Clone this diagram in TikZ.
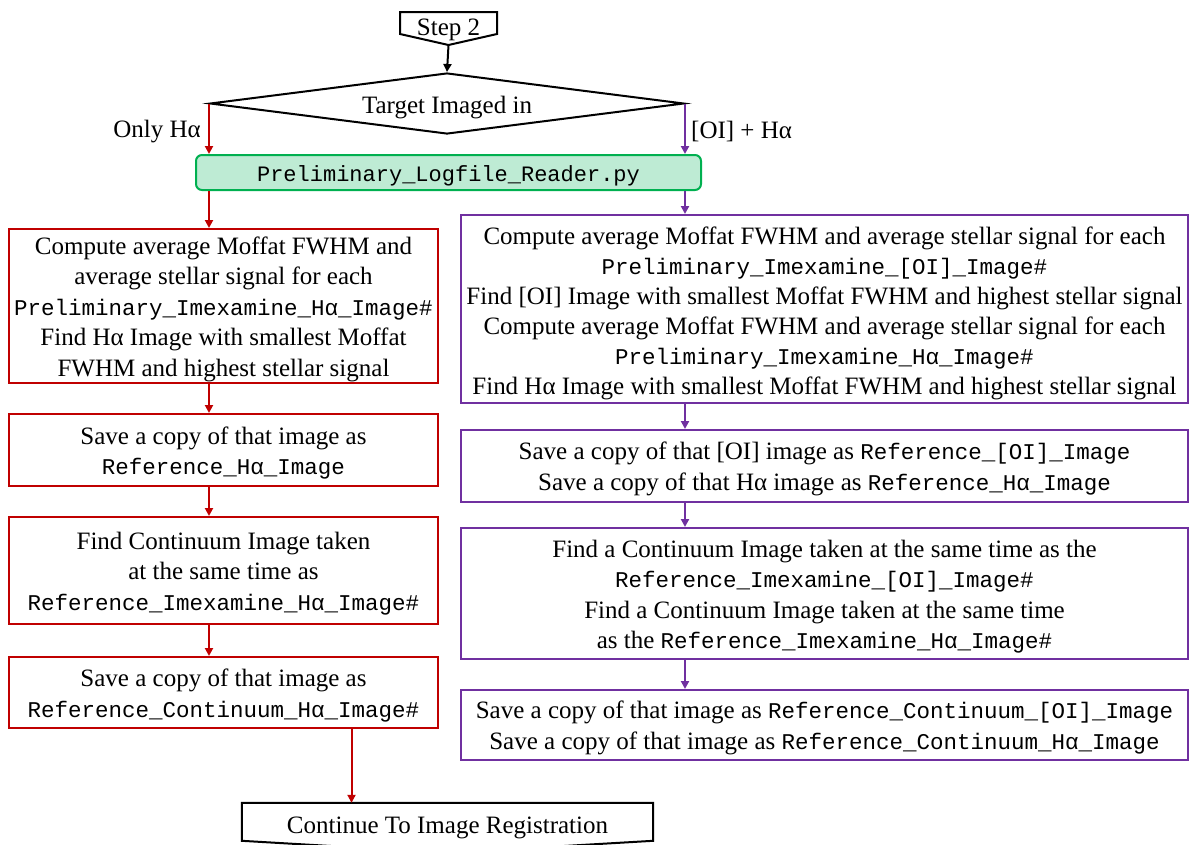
\documentclass[tikz,border=0pt]{standalone}
\usepackage{fontspec}
\setmainfont{Liberation Serif}
\setmonofont{Liberation Mono}
\usetikzlibrary{arrows.meta,calc,shapes.geometric}
\definecolor{flowred}{RGB}{192,0,0}
\definecolor{flowpurple}{RGB}{112,48,160}
\definecolor{flowgreen}{RGB}{0,176,80}
\definecolor{mint}{RGB}{190,235,212}
\newcommand{\code}[1]{{\fontsize{22.5}{30.5}\selectfont\ttfamily #1}}
% extra room above the first text line so it sits a little lower in its box
\newcommand{\topstrut}{\rule{0pt}{23.5pt}}

\begin{document}
\begin{tikzpicture}[x=1pt,y=-1pt,
  every node/.style={font=\fontsize{25}{30.5}\selectfont},
  box/.style={draw, line width=2pt, rectangle, align=center, inner sep=0pt},
  redbox/.style={box, draw=flowred},
  purplebox/.style={box, draw=flowpurple},
  flow/.style={line width=2pt, -{Triangle[length=8pt,width=8pt]}},
  redflow/.style={flow, color=flowred},
  purpleflow/.style={flow, color=flowpurple},
  blackflow/.style={flow, color=black}]

\useasboundingbox (0,0) rectangle (1189,844);
\clip (0,0) rectangle (1189,844);

% start terminal
\node[inner sep=0pt] (step) at (448.5,30) {Step 2};
\draw[line width=2pt, line join=miter]
  ($(step.center)+(-48.5,-18)$) -- ($(step.center)+(48.5,-18)$)
  -- ($(step.center)+(48.5,4)$) -- ($(step.center)+(0,15)$) coordinate (steptip)
  -- ($(step.center)+(-48.5,4)$) -- cycle;

% decision
\node[diamond, draw, line width=2pt, inner sep=0pt, aspect=7.8,
      minimum width=474pt, minimum height=61pt] (dia) at (447,103.5)
      {\rule{0pt}{26pt}Target Imaged in};

% shared script
\node[draw=flowgreen, fill=mint, line width=2pt, rounded corners=6pt,
      minimum width=505pt, minimum height=35pt, inner sep=0pt] (green) at (448.5,172.5)
      {\topstrut{\fontsize{22}{30}\selectfont\ttfamily Preliminary\_Logfile\_Reader.py}};

% branch labels
\node[anchor=east, inner sep=0pt] (lblleft) at (201,132) {Only Hα};
\node[anchor=west, inner sep=0pt] (lblright) at (691,131) {[OI] + Hα};

% left branch (H-alpha only)
\node[redbox, minimum width=429pt, minimum height=154pt] (lb1) at (223.5,306)
  {\topstrut Compute average Moffat FWHM and\\ average stellar signal for each\\
   \code{Preliminary\_Imexamine\_Hα\_Image\#}\\ Find Hα Image with smallest Moffat\\
   FWHM and highest stellar signal};
\node[redbox, minimum width=429pt, minimum height=72pt] (lb2) at (223.5,450)
  {\topstrut Save a copy of that image as\\ \code{Reference\_Hα\_Image}};
\node[redbox, minimum width=429pt, minimum height=107pt] (lb3) at (223.5,570.5)
  {\topstrut Find Continuum Image taken\\ at the same time as\\ \code{Reference\_Imexamine\_Hα\_Image\#}};
\node[redbox, minimum width=429pt, minimum height=71pt] (lb4) at (223.5,692.5)
  {\topstrut Save a copy of that image as\\ \code{Reference\_Continuum\_Hα\_Image\#}};

% right branch ([OI] + H-alpha)
\node[purplebox, minimum width=727pt, minimum height=188pt,
      font=\fontsize{25}{30}\selectfont] (rb1) at (824.5,309)
  {\rule{0pt}{26pt}Compute average Moffat FWHM and average stellar signal for each\\
   \code{Preliminary\_Imexamine\_[OI]\_Image\#}\\
   Find [OI] Image with smallest Moffat FWHM and highest stellar signal\\
   Compute average Moffat FWHM and average stellar signal for each\\
   \code{Preliminary\_Imexamine\_Hα\_Image\#}\\
   Find Hα Image with smallest Moffat FWHM and highest stellar signal};
\node[purplebox, minimum width=727pt, minimum height=72pt] (rb2) at (824.5,466)
  {\topstrut Save a copy of that [OI] image as \code{Reference\_[OI]\_Image}\\
   Save a copy of that Hα image as \code{Reference\_Hα\_Image}};
\node[purplebox, minimum width=727pt, minimum height=131pt] (rb3) at (824.5,593.5)
  {\topstrut Find a Continuum Image taken at the same time as the\\
   \code{Reference\_Imexamine\_[OI]\_Image\#}\\
   Find a Continuum Image taken at the same time\\
   as the \code{Reference\_Imexamine\_Hα\_Image\#}};
\node[purplebox, minimum width=727pt, minimum height=70pt] (rb4) at (824.5,725)
  {\topstrut Save a copy of that image as \code{Reference\_Continuum\_[OI]\_Image}\\
   Save a copy of that image as \code{Reference\_Continuum\_Hα\_Image}};

% end terminal
\node[inner sep=0pt, minimum width=411pt, minimum height=42pt] (cont) at (447.5,824)
  {\topstrut Continue To Image Registration};
\draw[line width=2pt, line join=miter] (cont.north west) -- (cont.north east)
  -- ($(cont.north east)+(0,38)$) -- ($(cont.north)+(0,50)$)
  -- ($(cont.north west)+(0,38)$) -- cycle;

% connectors
\draw[blackflow] (steptip) -- (dia.north);
\draw[redflow] (dia.west) -- (dia.west |- green.north);
\draw[purpleflow] (dia.east) -- (dia.east |- green.north);
\draw[redflow] (green.south -| dia.west) -- (lb1.north -| dia.west);
\draw[purpleflow] (green.south -| dia.east) -- (rb1.north -| dia.east);
\draw[redflow] (lb1.south -| dia.west) -- (lb2.north -| dia.west);
\draw[redflow] (lb2.south -| dia.west) -- (lb3.north -| dia.west);
\draw[redflow] (lb3.south -| dia.west) -- (lb4.north -| dia.west);
\draw[purpleflow] (rb1.south -| dia.east) -- (rb2.north -| dia.east);
\draw[purpleflow] (rb2.south -| dia.east) -- (rb3.north -| dia.east);
\draw[purpleflow] (rb3.south -| dia.east) -- (rb4.north -| dia.east);
\coordinate (lbout) at ($(lb4.south west)!0.797!(lb4.south east)$);
\draw[redflow] (lbout) -- (lbout |- cont.north);

\end{tikzpicture}
\end{document}
